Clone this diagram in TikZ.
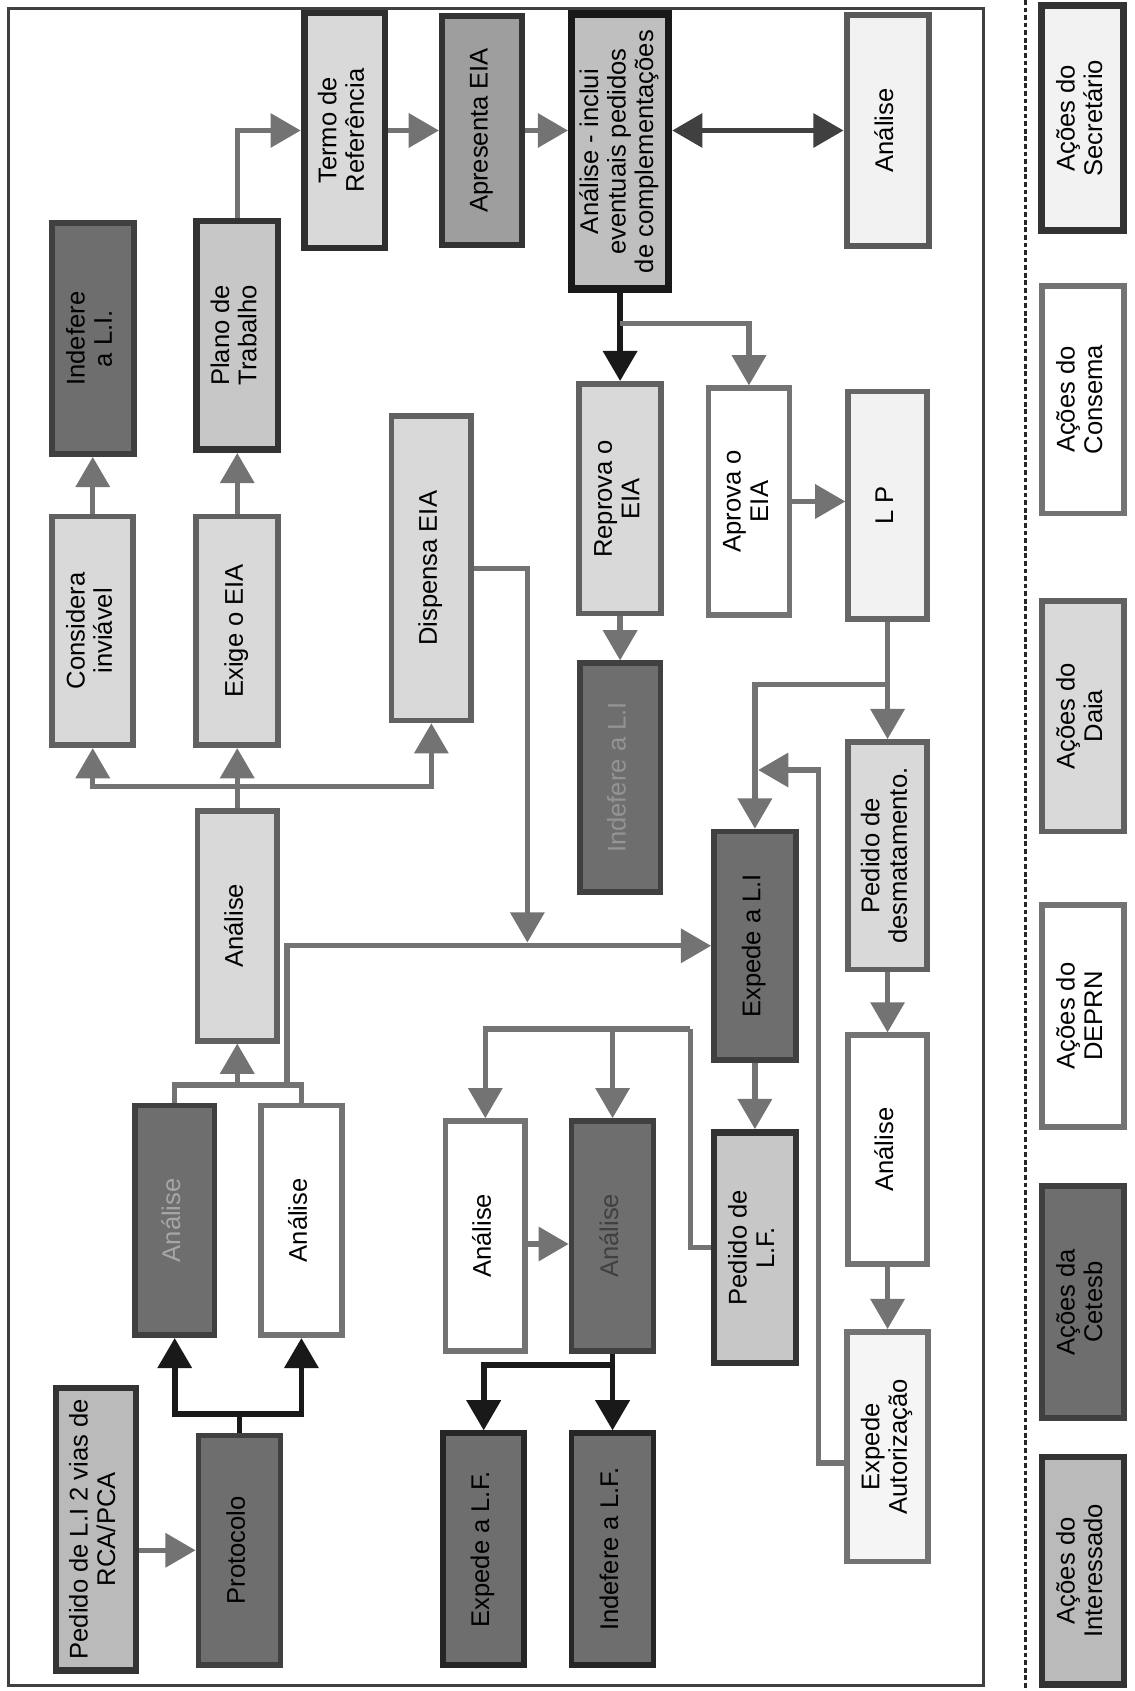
\documentclass[tikz,border=0pt]{standalone}
\usepackage{fontspec}
\setmainfont{Liberation Sans}
\usepackage{graphicx}
\usetikzlibrary{arrows.meta}

\newcommand{\rottext}[1]{\rotatebox{90}{\begin{tabular}{@{}c@{}}#1\end{tabular}}}

\tikzset{
  box/.style={draw, rectangle, inner sep=0pt, line width=3pt, font=\fontsize{13.5}{14.5}\selectfont},
  secretario/.style={box, fill=black!5, draw=black!80, line width=3.6pt},
  consema/.style={box, fill=white, draw=black!55},
  daia/.style={box, fill=black!15, draw=black!62},
  deprn/.style={box, fill=white, draw=black!55},
  cetesb/.style={box, fill=black!57, draw=black!75},
  interessado/.style={box, fill=black!27, draw=black!80, line width=3.4pt},
  conn/.style={->, draw=black!55, line width=2.8pt},
  connk/.style={->, draw=black!90, line width=3pt},
  link/.style={draw=black!55, line width=2.8pt},
  >={Triangle[length=5.6mm,width=6.2mm]},
}

\begin{document}
\begin{tikzpicture}[x=0.2mm, y=-0.2mm]
	\useasboundingbox (0,0) rectangle (1052,1568);
	\fill[white] (0,0) rectangle (1052,1568);

	% frame and separator
	\draw[black!75, line width=1.3pt] (8,8) rectangle (912,1563);
	\draw[black!85, line width=1.3pt, dash pattern=on 2.5pt off 1.5pt] (951,0) -- (951,1568);

	% legend
	\node[secretario, minimum width=15.2mm, minimum height=41.8mm] (l1) at (1004,109.5) {\rottext{Ações do\\Secretário}};
	\node[consema, minimum width=15.2mm, minimum height=42.2mm] (l2) at (1004,370.5) {\rottext{Ações do\\Consema}};
	\node[daia, minimum width=15.2mm, minimum height=42.8mm] (l3) at (1004,664) {\rottext{Ações do\\Daia}};
	\node[deprn, minimum width=15.2mm, minimum height=41.2mm] (l4) at (1004,942) {\rottext{Ações do\\DEPRN}};
	\node[cetesb, minimum width=15.2mm, minimum height=43mm] (l5) at (1004,1207.5) {\rottext{Ações da\\Cetesb}};
	\node[interessado, minimum width=15.2mm, minimum height=42.2mm] (l6) at (1004,1456.5) {\rottext{Ações do\\Interessado}};

	% licenca de instalacao
	\node[interessado, minimum width=14.8mm, minimum height=52.4mm] (pedli) at (89,1418) {\rottext{Pedido de L.I 2 vias de\\RCA/PCA}};
	\node[cetesb, minimum width=15.2mm, minimum height=42.6mm] (prot) at (222,1437.5) {\rottext{Protocolo}};
	\node[cetesb, text=black!35, minimum width=14.8mm, minimum height=42.6mm] (anc1) at (162,1131.5) {\rottext{Análise}};
	\node[deprn, minimum width=15mm, minimum height=42.6mm] (and1) at (279.5,1131.5) {\rottext{Análise}};
	\node[daia, minimum width=14.8mm, minimum height=42.6mm] (ana) at (220,858.5) {\rottext{Análise}};
	\node[daia, minimum width=15mm, minimum height=42.4mm] (cons) at (86,585) {\rottext{Considera\\inviável}};
	\node[daia, minimum width=15.2mm, minimum height=42.4mm] (exige) at (220,585) {\rottext{Exige o EIA}};
	\node[daia, minimum width=14.8mm, minimum height=56.4mm] (disp) at (400,527) {\rottext{Dispensa EIA}};
	\node[cetesb, minimum width=15.2mm, minimum height=42.8mm] (indli) at (86,314) {\rottext{Indefere\\a L.I.}};
	\node[interessado, fill=black!22, minimum width=15.2mm, minimum height=42.4mm] (plano) at (220,311) {\rottext{Plano de\\Trabalho}};

	% EIA
	\node[daia, draw=black!82, line width=3.6pt, minimum width=15mm, minimum height=43.6mm] (termo) at (319.5,121) {\rottext{Termo de\\Referência}};
	\node[interessado, fill=black!38, minimum width=14.8mm, minimum height=42.4mm] (apres) at (447,121) {\rottext{Apresenta EIA}};
	\node[daia, fill=black!25, draw=black!90, line width=3.8pt, minimum width=18mm, minimum height=51mm] (aninc) at (575,140.5) {\rottext{Análise - inclui\\eventuais pedidos\\de complementações}};
	\node[secretario, draw=black!65, line width=3.2pt, minimum width=15.2mm, minimum height=42.8mm] (anr) at (823,121) {\rottext{Análise}};
	\node[daia, minimum width=15.2mm, minimum height=42.6mm] (repr) at (575,462.5) {\rottext{Reprova o\\EIA}};
	\node[consema, minimum width=15mm, minimum height=42mm] (aprov) at (694.5,465) {\rottext{Aprova o\\EIA}};
	\node[secretario, draw=black!60, line width=3pt, minimum width=14.6mm, minimum height=42.2mm] (lp) at (823,468.5) {\rottext{L P}};
	\node[cetesb, text=black!42, minimum width=15mm, minimum height=42.4mm] (indli2) at (575,721) {\rottext{Indefere a L.I}};
	\node[cetesb, minimum width=15.2mm, minimum height=42.4mm] (expli) at (700,877) {\rottext{Expede a L.I}};
	\node[daia, minimum width=14.6mm, minimum height=42.2mm] (pdes) at (823,793.5) {\rottext{Pedido de\\desmatamento.}};
	\node[deprn, minimum width=14.6mm, minimum height=42.4mm] (anr2) at (823,1066) {\rottext{Análise}};
	\node[deprn, fill=black!4, minimum width=15mm, minimum height=42.6mm] (expaut) at (823,1341.5) {\rottext{Expede\\Autorização}};

	% licenca de funcionamento
	\node[deprn, minimum width=14.8mm, minimum height=42.6mm] (and2) at (450,1146) {\rottext{Análise}};
	\node[cetesb, text=black!75, minimum width=15.2mm, minimum height=42.6mm] (anc2) at (568,1146) {\rottext{Análise}};
	\node[interessado, fill=black!22, minimum width=15.2mm, minimum height=42.8mm] (pedlf) at (700,1157) {\rottext{Pedido de\\L.F.}};
	\node[cetesb, draw=black!85, minimum width=15mm, minimum height=43mm] (explf) at (448.5,1436.5) {\rottext{Expede a L.F.}};
	\node[cetesb, draw=black!85, minimum width=15.2mm, minimum height=43mm] (indlf) at (568,1436.5) {\rottext{Indefere a L.F.}};

	% junctions
	\coordinate (j1) at (222,1311);
	\coordinate (j2) at (220,1006);
	\coordinate (j3) at (266,1006);
	\coordinate (j4) at (220,729);
	\coordinate (j5) at (489,874);
	\coordinate (j6) at (575,300);
	\coordinate (j7) at (823,635);
	\coordinate (j8) at (759,714);
	\coordinate (j9) at (703,714);
	\coordinate (j10) at (640,954);
	\coordinate (j11) at (568,1266);

	% arrows
	\draw[conn] (pedli.east |- prot.west) -- (prot.west);
	\draw[connk] (prot.north) -- (j1) -| (anc1.south);
	\draw[connk] (j1) -| (and1.south);
	\draw[link] (anc1.north) |- (j2) -| (and1.north);
	\draw[conn] (j2) -- (ana.south);
	\draw[conn] (j3) |- (expli.west);
	\draw[link] (ana.north) -- (j4);
	\draw[conn] (j4) -| (cons.south);
	\draw[conn] (j4) -- (exige.south);
	\draw[conn] (j4) -| (disp.south);
	\draw[conn] (cons.north) -- (indli.south);
	\draw[conn] (exige.north) -- (plano.south);
	\draw[conn] (disp.east) -| (j5);
	\draw[conn] (plano.north) |- (termo.west);
	\draw[conn] (termo.east) -- (apres.west);
	\draw[conn] (apres.east) -- (aninc.west |- apres.east);
	\draw[conn, <->, draw=black!75] (aninc.east |- anr.west) -- (anr.west);
	\draw[connk] (aninc.south) -- (repr.north);
	\draw[conn] (j6) -| (aprov.north);
	\draw[conn] (repr.south) -- (indli2.north);
	\draw[conn] (aprov.east) -- (lp.west |- aprov.east);
	\draw[conn] (lp.south) -- (pdes.north);
	\draw[conn] (j7) -| (expli.north);
	\draw[conn] ([yshift=-3mm]expaut.west) -| (j8) -- (j9);
	\draw[conn] (pdes.south) -- (anr2.north);
	\draw[conn] (anr2.south) -- (expaut.north);
	\draw[conn] (expli.south) -- (pedlf.north);
	\draw[link] (pedlf.west) -| (j10);
	\draw[conn] (j10) -| (and2.north);
	\draw[conn] (j10) -| (anc2.north);
	\draw[conn] ([yshift=-1.5mm]and2.east) -- ([yshift=-1.5mm]anc2.west);
	\draw[connk] (anc2.south) -- (indlf.north);
	\draw[connk] (j11) -| (explf.north);
\end{tikzpicture}
\end{document}
